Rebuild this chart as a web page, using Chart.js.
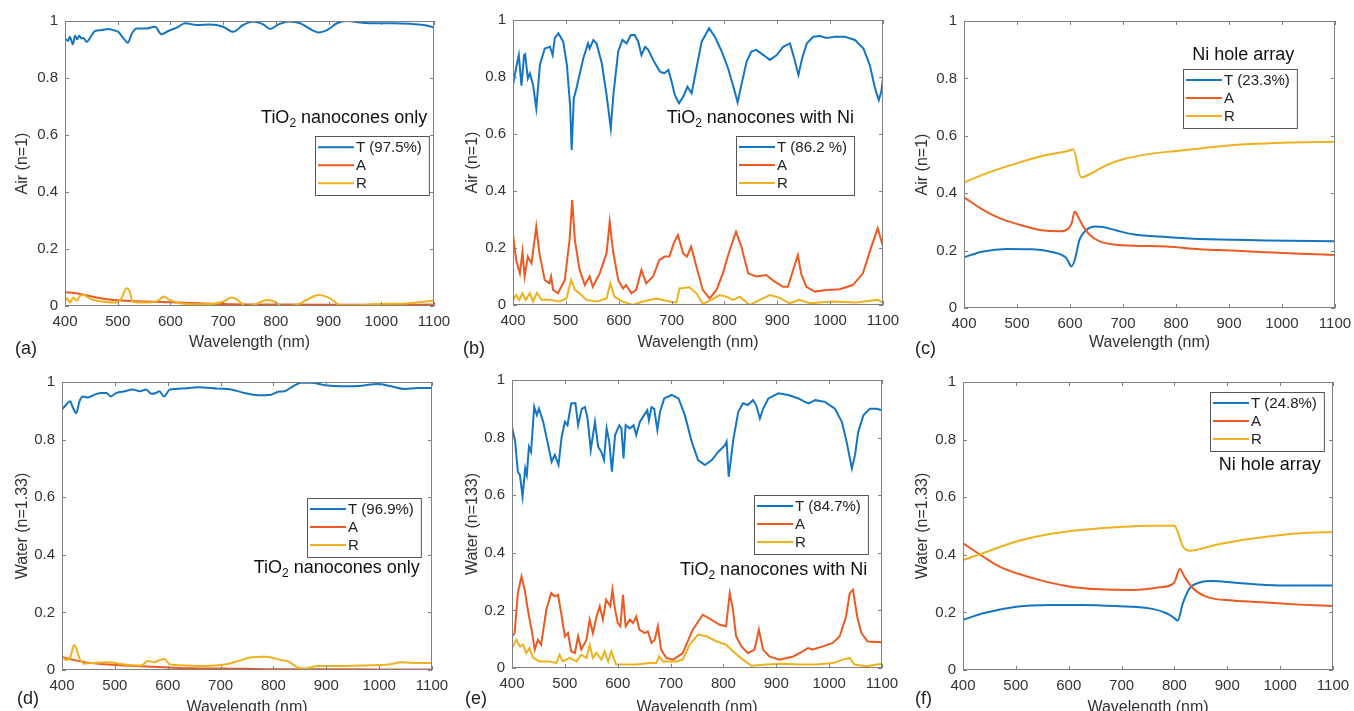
<!DOCTYPE html>
<html>
<head>
<meta charset="utf-8">
<title>T / A / R spectra</title>
<script src="https://cdn.jsdelivr.net/npm/chart.js@4.4.1/dist/chart.umd.min.js"></script>
<style>
  html, body { margin: 0; padding: 0; background: #fff; width: 1354px; height: 711px; overflow: hidden; }
  .panel { position: absolute; }
  .tag { position: absolute; font: 18px "Liberation Sans", Arial, sans-serif; line-height: 1; color: #222; }
</style>
</head>
<body>
<div class="panel" style="left:0px;top:0px"><canvas id="ca"></canvas></div>
<div class="panel" style="left:450px;top:0px"><canvas id="cb"></canvas></div>
<div class="panel" style="left:900px;top:0px"><canvas id="cc"></canvas></div>
<div class="panel" style="left:0px;top:352px"><canvas id="cd"></canvas></div>
<div class="panel" style="left:450px;top:352px"><canvas id="ce"></canvas></div>
<div class="panel" style="left:900px;top:352px"><canvas id="cf"></canvas></div>
<div class="tag" style="left:15px;top:339px">(a)</div>
<div class="tag" style="left:463px;top:339px">(b)</div>
<div class="tag" style="left:915px;top:339px">(c)</div>
<div class="tag" style="left:17px;top:689px">(d)</div>
<div class="tag" style="left:465px;top:689px">(e)</div>
<div class="tag" style="left:915px;top:689px">(f)</div>
<script>
// ---- data (wavelength in nm, fraction 0..1) ----

// (a) TiO2 nanocones only, air
const aT_wl = [400,406,409,415,419,423,427,431,435,441,449,457,470,482,492,501,511,519,527,536,555,571,583,596,612,628,650,675,700,719,738,757,776,789,805,824,846,865,881,897,916,935,960,991,1023,1055,1080,1100];
const aT = [0.939,0.93,0.945,0.918,0.948,0.936,0.948,0.939,0.94,0.927,0.945,0.965,0.968,0.972,0.968,0.962,0.939,0.924,0.957,0.974,0.974,0.98,0.953,0.965,0.977,0.992,0.986,0.988,0.98,0.962,0.986,0.998,0.988,0.972,0.988,0.998,0.992,0.972,0.96,0.968,0.992,1.0,0.995,0.992,0.992,0.99,0.986,0.978];
const aA_wl = [400,420,440,460,480,500,550,600,650,700,800,900,1000,1100];
const aA = [0.048,0.045,0.038,0.03,0.024,0.02,0.016,0.013,0.01,0.007,0.005,0.004,0.004,0.005];
const aR_wl = [400,404,409,416,422,428,436,441,454,473,498,507,517,523,528,555,577,587,599,618,656,700,716,729,742,758,783,798,811,838,858,881,903,922,960,991,1048,1080,1100];
const aR = [0.015,0.027,0.012,0.03,0.019,0.035,0.039,0.033,0.021,0.015,0.012,0.027,0.062,0.05,0.015,0.012,0.019,0.033,0.021,0.01,0.006,0.015,0.03,0.019,0.0,0.003,0.021,0.015,0.0,0.003,0.021,0.039,0.027,0.003,0.003,0.007,0.009,0.015,0.019];

// (b) TiO2 nanocones with Ni, air
const bT_wl = [400,407,411,416,421,423,428,432,438,444,451,460,470,475,479,486,495,502,508,511,515,520,533,542,545,552,558,568,577,585,590,599,607,615,623,630,637,643,650,656,665,678,686,694,700,706,714,722,730,738,747,757,771,782,795,807,817,825,832,842,851,860,874,886,899,911,924,932,940,947,956,968,981,993,1009,1028,1047,1063,1075,1085,1092,1097,1100];
const bT = [0.772,0.842,0.877,0.77,0.877,0.88,0.795,0.813,0.772,0.69,0.842,0.90,0.906,0.877,0.936,0.953,0.924,0.842,0.70,0.544,0.725,0.76,0.866,0.918,0.90,0.93,0.918,0.848,0.737,0.62,0.74,0.889,0.93,0.918,0.947,0.947,0.924,0.877,0.906,0.895,0.86,0.819,0.813,0.825,0.784,0.737,0.708,0.731,0.766,0.743,0.83,0.924,0.971,0.941,0.889,0.83,0.766,0.711,0.772,0.854,0.889,0.895,0.877,0.86,0.877,0.906,0.918,0.866,0.807,0.866,0.918,0.941,0.944,0.937,0.941,0.941,0.93,0.90,0.842,0.76,0.719,0.75,0.80];
const bA_wl = [400,406,413,418,422,428,435,444,450,460,469,472,476,485,498,507,512,517,526,536,545,551,564,577,583,589,599,608,614,624,633,643,652,665,677,687,696,704,712,722,729,737,747,759,772,785,797,810,822,832,845,860,879,895,911,920,930,939,945,955,971,993,1018,1043,1062,1078,1090,1100];
const bA = [0.246,0.158,0.111,0.187,0.10,0.17,0.146,0.275,0.181,0.088,0.076,0.10,0.053,0.041,0.088,0.228,0.368,0.228,0.123,0.07,0.10,0.064,0.111,0.181,0.292,0.193,0.088,0.058,0.07,0.041,0.053,0.123,0.076,0.10,0.158,0.17,0.17,0.216,0.246,0.181,0.17,0.205,0.135,0.053,0.023,0.053,0.111,0.193,0.257,0.205,0.111,0.10,0.105,0.082,0.064,0.064,0.123,0.175,0.111,0.064,0.047,0.053,0.055,0.07,0.111,0.205,0.269,0.205];
const bR_wl = [400,406,412,418,424,432,438,445,454,469,488,501,510,517,526,539,558,577,584,592,608,627,646,671,696,709,715,734,747,759,775,791,804,816,829,848,867,886,904,923,942,961,1005,1049,1090,1100];
const bR = [0.018,0.035,0.018,0.041,0.018,0.041,0.012,0.043,0.018,0.018,0.012,0.023,0.088,0.053,0.041,0.018,0.012,0.023,0.076,0.029,0.012,0.0,0.012,0.023,0.012,0.008,0.058,0.062,0.041,0.004,0.018,0.035,0.029,0.018,0.029,0.0,0.018,0.035,0.026,0.006,0.018,0.006,0.012,0.009,0.018,0.008];

// (c) Ni hole array, air
const cT_wl = [400,436,480,530,568,593,603,609,618,631,647,662,688,719,782,845,908,971,1100];
const cT = [0.177,0.197,0.206,0.205,0.194,0.174,0.145,0.168,0.238,0.272,0.284,0.282,0.27,0.257,0.247,0.24,0.238,0.235,0.233];
const cA_wl = [400,436,467,505,543,581,596,603,609,615,625,637,656,688,719,782,845,908,971,1034,1100];
const cA = [0.386,0.342,0.313,0.29,0.272,0.267,0.275,0.295,0.336,0.319,0.284,0.255,0.232,0.22,0.217,0.214,0.205,0.2,0.194,0.189,0.185];
const cR_wl = [400,442,499,555,596,606,621,640,669,700,751,801,876,939,1002,1100];
const cR = [0.437,0.469,0.504,0.533,0.547,0.553,0.455,0.469,0.498,0.518,0.537,0.547,0.562,0.571,0.576,0.579];

// (d) TiO2 nanocones only, water
const dT_wl = [400,408,415,421,427,433,440,449,462,474,484,492,503,519,534,547,559,569,578,584,593,604,626,657,695,720,745,771,796,809,821,837,853,872,897,928,960,998,1023,1048,1073,1100];
const dT = [0.904,0.921,0.933,0.91,0.892,0.933,0.95,0.946,0.956,0.962,0.962,0.95,0.962,0.968,0.974,0.968,0.974,0.959,0.962,0.968,0.95,0.974,0.977,0.982,0.977,0.974,0.962,0.954,0.956,0.966,0.968,0.985,0.997,0.997,0.989,0.985,0.986,0.993,0.985,0.976,0.979,0.979];
const dA_wl = [400,420,455,490,519,560,600,645,700,750,800,900,1000,1100];
const dA = [0.045,0.036,0.024,0.019,0.016,0.012,0.009,0.006,0.005,0.004,0.003,0.003,0.002,0.002];
const dR_wl = [400,408,416,423,427,433,442,455,487,519,550,563,575,584,594,604,632,670,708,733,758,783,802,815,827,843,859,884,928,973,1017,1042,1073,1100];
const dR = [0.046,0.035,0.046,0.087,0.075,0.041,0.022,0.024,0.027,0.019,0.016,0.031,0.027,0.034,0.038,0.019,0.016,0.014,0.019,0.031,0.044,0.046,0.041,0.034,0.031,0.012,0.005,0.014,0.014,0.016,0.019,0.027,0.024,0.024];

// (e) TiO2 nanocones with Ni, water
const eT_wl = [400,406,411,415,420,425,428,432,436,442,447,451,459,467,475,481,488,494,500,505,512,520,525,532,538,543,549,557,563,569,574,579,584,589,595,603,607,611,615,623,630,635,642,650,656,659,664,669,675,680,688,702,715,727,740,752,765,778,790,803,806,810,819,828,837,846,856,862,869,875,885,904,923,942,952,961,974,992,1011,1024,1033,1043,1049,1055,1065,1077,1090,1100];
const eT = [0.838,0.786,0.682,0.67,0.595,0.693,0.67,0.768,0.75,0.907,0.878,0.90,0.855,0.786,0.716,0.74,0.705,0.803,0.855,0.843,0.919,0.92,0.843,0.90,0.906,0.866,0.757,0.855,0.768,0.75,0.722,0.832,0.786,0.682,0.809,0.843,0.832,0.728,0.843,0.832,0.843,0.809,0.855,0.878,0.895,0.86,0.906,0.90,0.826,0.889,0.936,0.948,0.936,0.878,0.786,0.722,0.705,0.722,0.75,0.774,0.786,0.664,0.797,0.889,0.919,0.913,0.93,0.913,0.866,0.90,0.936,0.954,0.948,0.936,0.926,0.919,0.93,0.924,0.90,0.855,0.786,0.693,0.74,0.82,0.878,0.90,0.90,0.895];
const eA_wl = [400,405,411,418,424,430,437,443,449,455,465,474,481,487,493,500,506,512,519,525,531,541,547,553,560,566,572,578,586,590,594,600,605,610,615,623,629,635,641,651,657,664,670,676,682,692,705,723,742,761,777,793,805,812,818,824,834,846,853,859,867,875,887,906,932,950,960,969,988,1007,1020,1032,1039,1045,1053,1061,1073,1100];
const eA = [0.11,0.121,0.26,0.318,0.272,0.202,0.133,0.064,0.098,0.081,0.202,0.26,0.249,0.254,0.191,0.11,0.121,0.058,0.052,0.11,0.064,0.098,0.168,0.121,0.179,0.214,0.168,0.237,0.214,0.272,0.214,0.156,0.145,0.254,0.145,0.168,0.156,0.179,0.133,0.121,0.127,0.087,0.098,0.145,0.064,0.035,0.029,0.052,0.133,0.185,0.168,0.15,0.145,0.26,0.202,0.11,0.075,0.052,0.058,0.064,0.133,0.064,0.04,0.029,0.04,0.058,0.069,0.064,0.075,0.087,0.11,0.179,0.26,0.272,0.179,0.121,0.092,0.089];
const eR_wl = [400,408,415,421,427,433,440,452,471,484,490,496,509,522,531,541,547,553,560,569,575,582,588,597,610,635,660,673,678,686,711,723,736,752,768,787,805,818,837,853,881,913,944,976,1007,1026,1039,1048,1070,1100];
const eR = [0.069,0.098,0.075,0.081,0.052,0.069,0.035,0.023,0.023,0.017,0.046,0.023,0.035,0.023,0.046,0.035,0.081,0.035,0.052,0.029,0.058,0.023,0.058,0.012,0.012,0.012,0.017,0.017,0.04,0.023,0.023,0.029,0.081,0.116,0.11,0.092,0.081,0.058,0.029,0.008,0.012,0.015,0.012,0.012,0.017,0.029,0.035,0.012,0.006,0.015];

// (f) Ni hole array, water
const fT_wl = [400,438,501,564,627,690,753,785,800,806,816,829,848,873,911,974,1037,1100];
const fT = [0.174,0.197,0.22,0.226,0.226,0.222,0.214,0.197,0.18,0.171,0.232,0.284,0.304,0.309,0.304,0.295,0.293,0.293];
const fA_wl = [400,438,469,532,595,659,722,772,797,802,810,819,835,860,911,974,1037,1100];
const fA = [0.44,0.394,0.359,0.319,0.292,0.28,0.278,0.287,0.299,0.313,0.351,0.324,0.284,0.255,0.241,0.234,0.227,0.222];
const fR_wl = [400,438,501,564,627,690,753,800,806,816,829,841,879,923,974,1037,1100];
const fR = [0.382,0.406,0.446,0.472,0.487,0.496,0.501,0.501,0.481,0.429,0.414,0.417,0.435,0.45,0.463,0.475,0.479];

// legend labels
const aLabels = ['T (97.5%)', 'A', 'R'];
const bLabels = ['T (86.2 %)', 'A', 'R'];
const cLabels = ['T (23.3%)', 'A', 'R'];
const dLabels = ['T (96.9%)', 'A', 'R'];
const eLabels = ['T (84.7%)', 'A', 'R'];
const fLabels = ['T (24.8%)', 'A', 'R'];

// ---- style ----
const FONT = '"Liberation Sans", Arial, sans-serif';
const COLORS = ['#1476c3', '#ec5a22', '#eeb21f'];
const AXIS_COLOR = '#808080';
const TEXT_COLOR = '#333333';

// frame, inward ticks, in-plot legend and note, MATLAB style
const panelDecor = {
    id: 'panelDecor',
    afterDatasetsDraw(chart, args, opts) {
        const ctx = chart.ctx;
        const ca = chart.chartArea;
        const xs = chart.scales.x, ys = chart.scales.y;
        ctx.save();

        // box and inward ticks
        ctx.strokeStyle = AXIS_COLOR;
        ctx.lineWidth = 1;
        ctx.strokeRect(Math.round(ca.left) + 0.5, Math.round(ca.top) + 0.5,
            Math.round(ca.width) - 1, Math.round(ca.height) - 1);
        ctx.beginPath();
        xs.ticks.forEach(t => {
            const px = Math.round(xs.getPixelForValue(t.value)) + 0.5;
            ctx.moveTo(px, ca.bottom); ctx.lineTo(px, ca.bottom - 4);
            ctx.moveTo(px, ca.top); ctx.lineTo(px, ca.top + 4);
        });
        ys.ticks.forEach(t => {
            const py = Math.round(ys.getPixelForValue(t.value)) + 0.5;
            ctx.moveTo(ca.left, py); ctx.lineTo(ca.left + 4, py);
            ctx.moveTo(ca.right, py); ctx.lineTo(ca.right - 4, py);
        });
        ctx.stroke();

        // legend box, top-right corner anchored at a data point
        if (opts.legend) {
            ctx.font = '15px ' + FONT;
            const sets = chart.data.datasets;
            const textW = Math.max(...sets.map(d => ctx.measureText(d.label).width));
            const w = 3 + 36 + 3 + textW + 6;
            const h = 59;
            const right = xs.getPixelForValue(opts.legend.x);
            const top = ys.getPixelForValue(opts.legend.y);
            const left = Math.round(right - w);
            ctx.fillStyle = '#fff';
            ctx.fillRect(left, Math.round(top), w, h);
            ctx.strokeStyle = '#555';
            ctx.strokeRect(left + 0.5, Math.round(top) + 0.5, w, h);
            sets.forEach((d, i) => {
                const cy = top + 11 + i * 18;
                ctx.strokeStyle = d.borderColor;
                ctx.lineWidth = 2;
                ctx.beginPath();
                ctx.moveTo(left + 3, cy); ctx.lineTo(left + 39, cy);
                ctx.stroke();
                ctx.fillStyle = '#222';
                ctx.textAlign = 'left';
                ctx.textBaseline = 'middle';
                ctx.fillText(d.label, left + 41, cy + 1);
            });
        }

        // note text, right-aligned, with subscripts
        if (opts.note) {
            const big = '18px ' + FONT, small = '12px ' + FONT;
            let total = 0;
            opts.note.parts.forEach(p => {
                ctx.font = p.sub ? small : big;
                total += ctx.measureText(p.text).width;
            });
            let x = xs.getPixelForValue(opts.note.x) - total;
            const y = ys.getPixelForValue(opts.note.y);
            ctx.fillStyle = '#111';
            ctx.textAlign = 'left';
            ctx.textBaseline = 'middle';
            opts.note.parts.forEach(p => {
                ctx.font = p.sub ? small : big;
                ctx.fillText(p.text, x, p.sub ? y + 6 : y);
                x += ctx.measureText(p.text).width;
            });
        }
        ctx.restore();
    }
};

const noteTiOnly = [{text: 'TiO'}, {text: '2', sub: true}, {text: ' nanocones only'}];
const noteTiNi = [{text: 'TiO'}, {text: '2', sub: true}, {text: ' nanocones with Ni'}];
const noteNi = [{text: 'Ni hole array'}];

function makePanel(id, lay, yTitle, labels, wls, vals, decor) {
    const canvas = document.getElementById(id);
    canvas.width = lay.w;
    canvas.height = lay.h;
    const datasets = labels.map((lab, i) => ({
        label: lab,
        data: wls[i].map((w, k) => ({x: w, y: vals[i][k]})),
        borderColor: COLORS[i],
        backgroundColor: COLORS[i],
        borderWidth: 2,
        pointRadius: 0,
        fill: false,
        tension: 0,
        cubicInterpolationMode: lay.smooth ? 'monotone' : 'default',
        order: labels.length - i
    }));
    const tickFont = {family: FONT, size: 15};
    const titleFont = {family: FONT, size: 16};
    return new Chart(canvas.getContext('2d'), {
        type: 'line',
        data: {datasets: datasets},
        options: {
            responsive: false,
            animation: false,
            events: [],
            layout: {padding: {left: 0, right: lay.padR, top: lay.padT, bottom: 0}},
            plugins: {
                legend: {display: false},
                tooltip: {enabled: false},
                panelDecor: decor
            },
            scales: {
                x: {
                    type: 'linear', min: 400, max: 1100,
                    grid: {display: false, drawTicks: false},
                    border: {display: false},
                    ticks: {stepSize: 100, padding: 7, maxRotation: 0, autoSkip: false,
                        color: TEXT_COLOR, font: tickFont, callback: v => String(v)},
                    title: {display: true, text: 'Wavelength (nm)', color: TEXT_COLOR,
                        font: titleFont, padding: {top: 0, bottom: lay.xTitlePad}},
                    afterFit: s => { s.height = lay.xH; s.paddingLeft = 0; s.paddingRight = 0; }
                },
                y: {
                    type: 'linear', min: 0, max: 1,
                    grid: {display: false, drawTicks: false},
                    border: {display: false},
                    ticks: {stepSize: 0.2, padding: 7, color: TEXT_COLOR, font: tickFont,
                        callback: v => String(Math.round(v * 10) / 10)},
                    title: {display: true, text: yTitle, color: TEXT_COLOR,
                        font: titleFont, padding: {top: 13, bottom: 0}},
                    afterFit: s => { s.width = lay.yW; s.paddingTop = 0; s.paddingBottom = 0; }
                }
            }
        },
        plugins: [panelDecor]
    });
}

makePanel('ca', {w: 450, h: 352, yW: 65, padR: 16, padT: 21, xH: 46, xTitlePad: 0, smooth: true},
    'Air (n=1)', aLabels, [aT_wl, aA_wl, aR_wl], [aT, aA, aR],
    {legend: {x: 1091, y: 0.596}, note: {x: 1087, y: 0.66, parts: noteTiOnly}});
makePanel('cb', {w: 450, h: 352, yW: 63, padR: 17, padT: 20, xH: 47, xTitlePad: 0, smooth: false},
    'Air (n=1)', bLabels, [bT_wl, bA_wl, bR_wl], [bT, bA, bR],
    {legend: {x: 1045, y: 0.593}, note: {x: 1045, y: 0.656, parts: noteTiNi}});
makePanel('cc', {w: 454, h: 352, yW: 64, padR: 19, padT: 21, xH: 44, xTitlePad: 0, smooth: true},
    'Air (n=1)', cLabels, [cT_wl, cA_wl, cR_wl], [cT, cA, cR],
    {legend: {x: 1028, y: 0.833}, note: {x: 1023, y: 0.882, parts: noteNi}});
makePanel('cd', {w: 450, h: 370, yW: 62, padR: 18, padT: 30, xH: 52, xTitlePad: 5, smooth: true},
    'Water (n=1.33)', dLabels, [dT_wl, dA_wl, dR_wl], [dT, dA, dR],
    {legend: {x: 1079, y: 0.597}, note: {x: 1077, y: 0.354, parts: noteTiOnly}});
makePanel('ce', {w: 450, h: 370, yW: 62, padR: 18, padT: 28, xH: 54, xTitlePad: 5, smooth: false},
    'Water (n=133)', eLabels, [eT_wl, eA_wl, eR_wl], [eT, eA, eR],
    {legend: {x: 1073, y: 0.601}, note: {x: 1072, y: 0.34, parts: noteTiNi}});
makePanel('cf', {w: 454, h: 370, yW: 63, padR: 21, padT: 30, xH: 52, xTitlePad: 5, smooth: true},
    'Water (n=1.33)', fLabels, [fT_wl, fA_wl, fR_wl], [fT, fA, fR],
    {legend: {x: 1083, y: 0.965}, note: {x: 1077, y: 0.712, parts: noteNi}});
</script>
</body>
</html>
